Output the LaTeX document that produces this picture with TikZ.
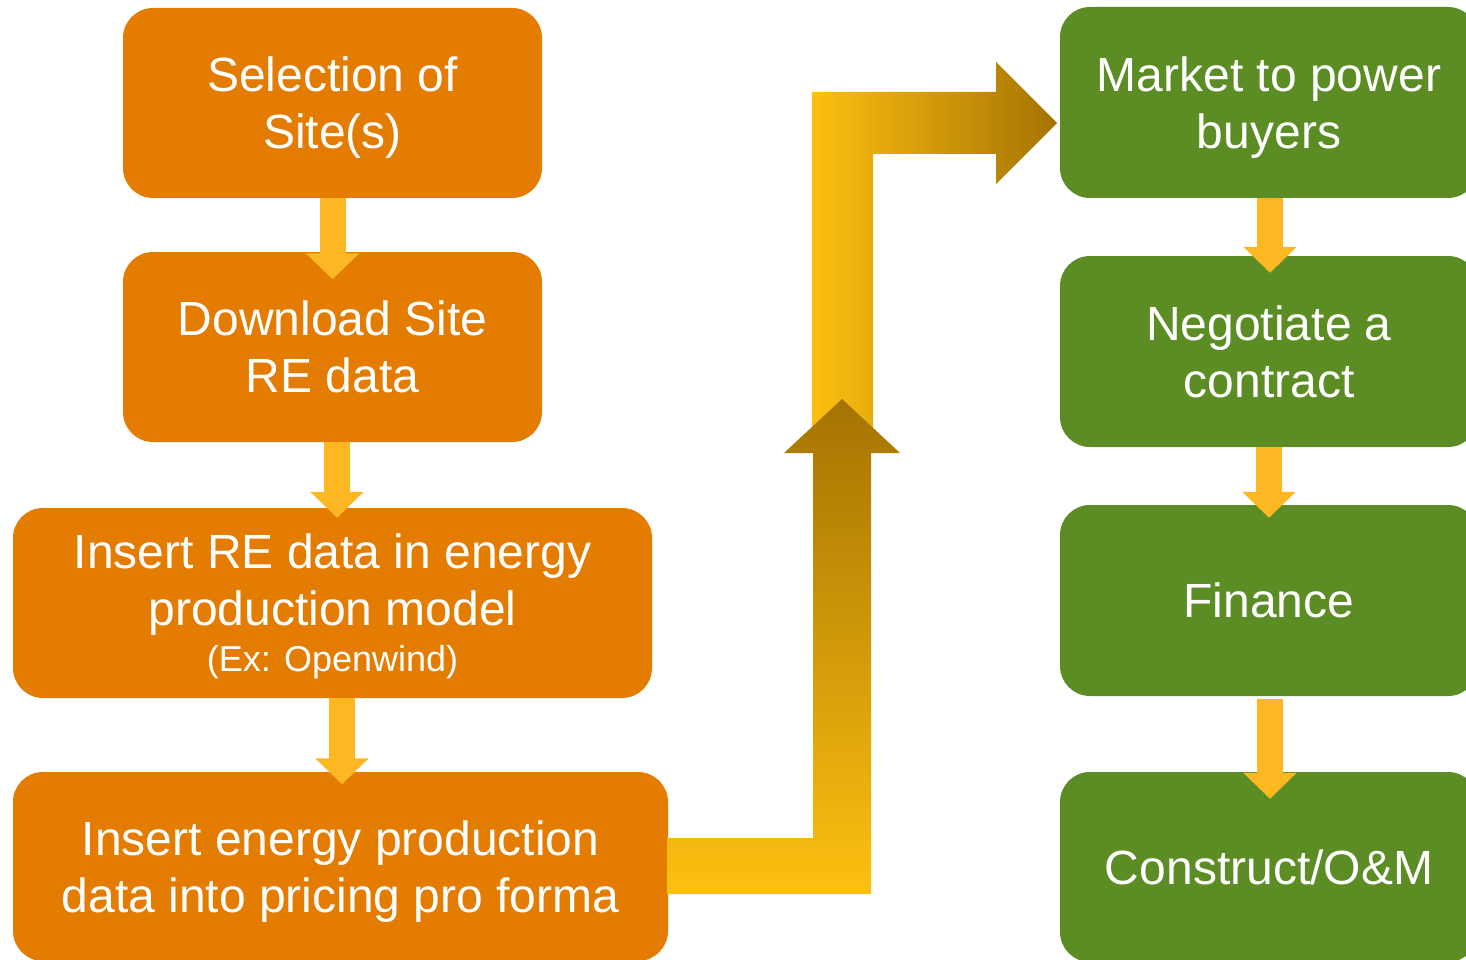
\documentclass[tikz,border=0pt]{standalone}
\usepackage{fontspec}
\setmainfont{Liberation Sans}
\usetikzlibrary{arrows.meta,calc}
\definecolor{boxorange}{HTML}{E37C00}
\definecolor{boxgreen}{HTML}{5C8D24}
\definecolor{arrowyellow}{HTML}{FCB722}
\definecolor{gradlight}{HTML}{FDC011}
\definecolor{graddark}{HTML}{A57302}
\newcommand\TopStrut{\rule{0pt}{45.4pt}}
\newcommand\BotStrut{\rule[-11pt]{0pt}{11pt}}
\begin{document}
\begin{tikzpicture}[x=1pt,y=-1pt,
  box/.style={rectangle, rounded corners=30pt, inner sep=0pt, text=white,
    align=center, font=\fontsize{48}{57}\selectfont},
  obox/.style={box, fill=boxorange},
  gbox/.style={box, fill=boxgreen},
  flow/.style={draw=arrowyellow, line width=26pt,
    -{Triangle[width=52pt,length=26pt]}},
]
\useasboundingbox (0,0) rectangle (1466,960);
\clip (0,0) rectangle (1466,960);

% boxes
\node[obox, minimum width=419pt, minimum height=190pt] (o1) at (332.5,103)
  {\TopStrut Selection of\\Site(s)\BotStrut};
\node[obox, minimum width=419pt, minimum height=190pt] (o2) at (332.5,347)
  {\TopStrut Download Site\\RE data\BotStrut};
\node[obox, minimum width=639pt, minimum height=190pt] (o3) at (332.5,603)
  {\TopStrut Insert RE data in energy\\production model\\[-11pt]{\fontsize{36}{46}\selectfont (Ex: Openwind)}\BotStrut};
\node[obox, minimum width=655pt, minimum height=189pt] (o4) at (340.5,866.5)
  {\TopStrut Insert energy production\\data into pricing pro forma\BotStrut};

\node[gbox, minimum width=418pt, minimum height=191pt] (g1) at (1269,102.5)
  {\TopStrut Market to power\\buyers\BotStrut};
\node[gbox, minimum width=418pt, minimum height=191pt] (g2) at (1269,351.5)
  {\TopStrut Negotiate a\\contract\BotStrut};
\node[gbox, minimum width=418pt, minimum height=191pt] (g3) at (1269,600.5)
  {\TopStrut Finance\BotStrut};
\node[gbox, minimum width=418pt, minimum height=190pt] (g4) at (1269,867)
  {\TopStrut Construct/O\&M\BotStrut};

% big bent arrows
\coordinate (rightTip) at (1057,123);
\coordinate (upTip) at (842,399);
\shade[left color=gradlight, right color=graddark]
  (812,440) -- (812,92) -- (996,92) -- (996,62) -- (rightTip) -- (996,184)
  -- (996,154) -- (873,154) -- (873,440) -- cycle;
\shade[top color=graddark, bottom color=gradlight]
  ($(o4.east)+(-1,-28.5)$) -- (813,838) -- (813,453) -- (784,453) -- (upTip)
  -- (900,453) -- (871,453) -- (871,894) -- ($(o4.east)+(-1,27.5)$) -- cycle;

% small arrows
\draw[flow] (o1.south) -- ($(o2.north)+(0,27.5)$);
\draw[flow] ($(o2.south)+(4.5,0)$) -- ($(o3.north)+(4.5,10)$);
\draw[flow] ($(o3.south)+(9.5,0)$) -- ($(o4.north)+(1.5,12.5)$);
\draw[flow] ($(g1.south)+(1,0)$) -- ($(g2.north)+(1,17)$);
\draw[flow] (g2.south) -- ($(g3.north)+(0,13)$);
\draw[flow] ($(g3.south)+(1,3)$) -- ($(g4.north)+(1,27)$);
\end{tikzpicture}
\end{document}
